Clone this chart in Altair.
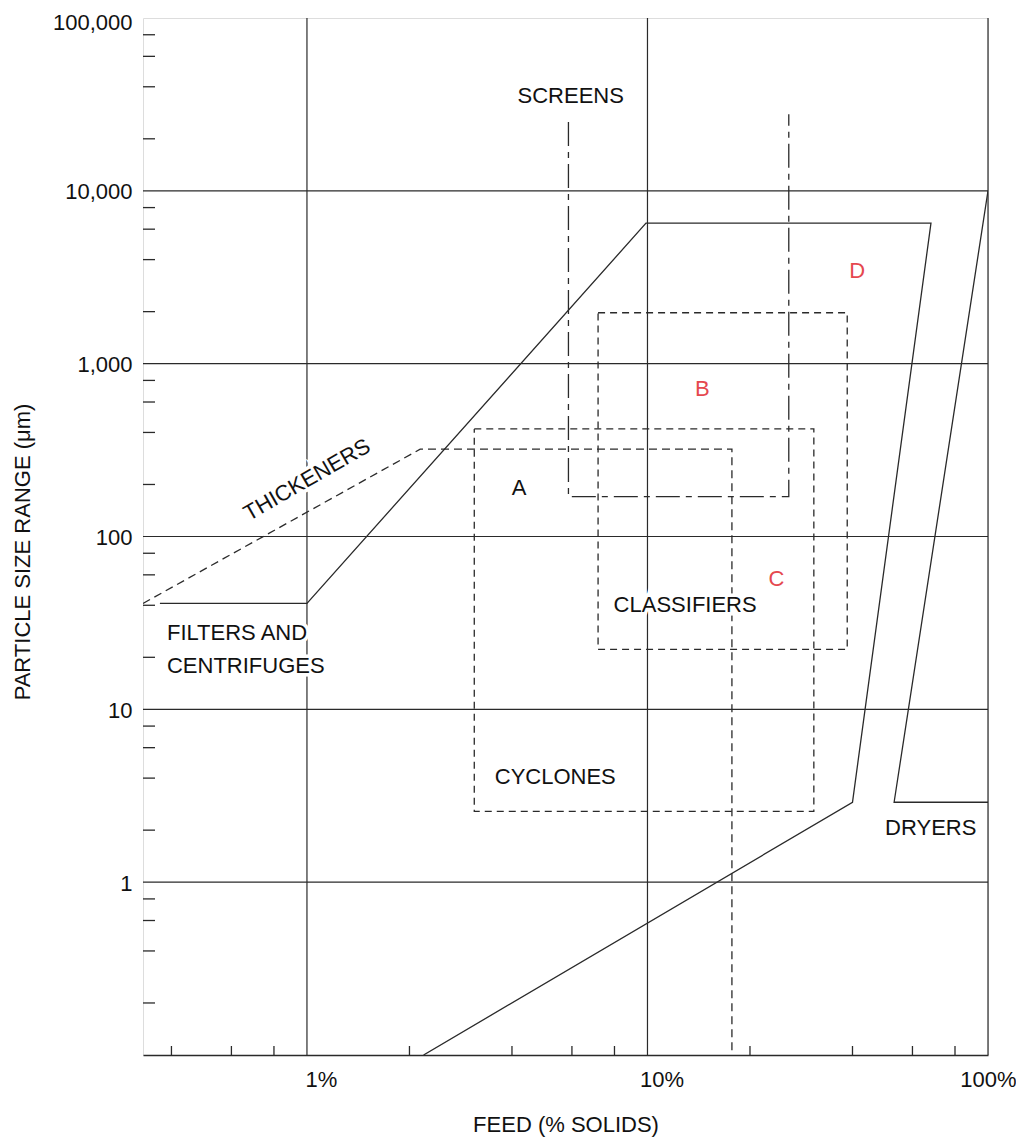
import altair as alt
import pandas as pd

# ---------------- data ----------------
X_DOMAIN = [0.33, 100]          # feed, % solids (log)
Y_DOMAIN = [0.1, 100000]        # particle size, micrometres (log)

x_label_values = [1, 10, 100]
y_label_values = [1, 10, 100, 1000, 10000, 100000]
x_minor = [0.4, 0.6, 0.8, 2, 4, 6, 8, 20, 40, 60, 80]
y_minor = [0.2, 0.4, 0.6, 0.8, 2, 4, 6, 8, 20, 40, 60, 80,
           200, 400, 600, 800, 2000, 4000, 6000, 8000,
           20000, 40000, 60000, 80000]
grid_x = [1, 10, 100]
grid_y = [1, 10, 100, 1000, 10000]

filters_x = [0.37, 1.0, 9.9, 68, 40, 2.2]
filters_y = [41, 41, 6500, 6500, 2.9, 0.1]
dryers_x = [100, 53, 100]
dryers_y = [10000, 2.9, 2.9]
thickeners_x = [0.33, 2.15, 17.7, 17.7]
thickeners_y = [41, 320, 320, 0.1]
cyclones_x = [3.1, 30.8, 30.8, 3.1, 3.1]
cyclones_y = [419, 419, 2.57, 2.57, 419]
classifiers_x = [7.16, 38.6, 38.6, 7.16, 7.16]
classifiers_y = [1970, 1970, 22.2, 22.2, 1970]
screens_x = [5.86, 5.86, 26, 26]
screens_y = [25000, 170, 170, 27700]

center_text = ["SCREENS", "THICKENERS", "A", "B", "C", "D",
               "CLASSIFIERS", "CYCLONES", "DRYERS"]
center_x = [5.95, 1.0, 4.2, 14.5, 23.9, 41.3, 12.9, 5.36, 67.9]
center_y = [35600, 213, 190, 716, 56.5, 3430, 40.4, 4.08, 2.07]
center_angle = [0, 330, 0, 0, 0, 0, 0, 0, 0]
center_red = [False, False, False, True, True, True, False, False, False]

left_text = ["FILTERS AND", "CENTRIFUGES"]
left_x = [0.388, 0.388]
left_y = [27.7, 17.8]

# ---------------- styling ----------------
W, H = 845, 1037
FONT = "Liberation Sans Narrow, Arial Narrow, Liberation Sans, Arial, sans-serif"
FS = 22
LINE = "#2a2a2a"
TXT = "#111111"
RED = "#e5484f"

xscale = alt.Scale(type="log", domain=X_DOMAIN, nice=False)
yscale = alt.Scale(type="log", domain=Y_DOMAIN, nice=False)

xaxis = alt.Axis(values=x_label_values, labelExpr="datum.value + '%'",
                 ticks=False, grid=False, domain=True, domainColor=LINE,
                 domainWidth=1.3, labelFont=FONT, labelFontSize=FS,
                 labelColor=TXT, labelPadding=14, labelFlush=False,
                 labelOverlap=False,
                 labelOffset={"condition": {"test": "datum.value >= 100", "value": 0},
                              "value": 14},
                 title="FEED (% SOLIDS)", titleFont=FONT, titleFontSize=FS,
                 titleFontWeight="normal", titleColor=TXT,
                 titleY=69, titleBaseline="middle")
yaxis = alt.Axis(values=y_label_values, format=",", ticks=False, grid=False,
                 domain=False, labelFont=FONT, labelFontSize=FS,
                 labelColor=TXT, labelPadding=11, labelFlush=False,
                 labelOverlap=False,
                 labelOffset={"condition": {"test": "datum.value >= 100000", "value": 4},
                              "value": 1},
                 title="PARTICLE SIZE RANGE (μm)", titleFont=FONT,
                 titleFontSize=FS, titleFontWeight="normal", titleColor=TXT,
                 titleAngle=270, titleAlign="center", titleBaseline="middle",
                 titleX=-121, titleY=H / 2 + 15)


def X():
    return alt.X("x:Q", scale=xscale, axis=xaxis)


def Y():
    return alt.Y("y:Q", scale=yscale, axis=yaxis)


# gridlines
gy = alt.Chart(pd.DataFrame({"y": grid_y})).mark_rule(
    color=LINE, strokeWidth=1.2).encode(y=Y())
gx = alt.Chart(pd.DataFrame({"x": grid_x})).mark_rule(
    color=LINE, strokeWidth=1.2).encode(x=X())

# inward minor ticks
ty = alt.Chart(pd.DataFrame({"y": y_minor})).mark_rule(
    color=LINE, strokeWidth=1.3).encode(y=Y(), x=alt.value(0), x2=alt.value(12))
tx = alt.Chart(pd.DataFrame({"x": x_minor})).mark_rule(
    color=LINE, strokeWidth=1.3).encode(x=X(), y=alt.value(H), y2=alt.value(H - 9))


def poly(xs, ys, dash=None):
    df = pd.DataFrame({"x": xs, "y": ys, "i": list(range(len(xs)))})
    kw = dict(color=LINE, strokeWidth=1.3, clip=True)
    if dash:
        kw["strokeDash"] = dash
    return alt.Chart(df).mark_line(**kw).encode(x=X(), y=Y(), order="i:Q")


lines = [
    poly(filters_x, filters_y),
    poly(dryers_x, dryers_y),
    poly(thickeners_x, thickeners_y, [8, 5]),
    poly(cyclones_x, cyclones_y, [7, 5]),
    poly(classifiers_x, classifiers_y, [7, 5]),
    poly(screens_x, screens_y, [24, 6, 6, 6]),
]

cdf = pd.DataFrame({"x": center_x, "y": center_y, "t": center_text,
                    "a": center_angle,
                    "c": [RED if r else TXT for r in center_red]})
ldf = pd.DataFrame({"x": left_x, "y": left_y, "t": left_text})

halo_c = alt.Chart(cdf).mark_text(font=FONT, fontSize=FS, align="center",
                                  baseline="middle", stroke="white",
                                  strokeWidth=7, fill="white").encode(
    x=X(), y=Y(), text="t:N", angle=alt.Angle("a:Q", scale=None))
text_c = alt.Chart(cdf).mark_text(font=FONT, fontSize=FS, align="center",
                                  baseline="middle").encode(
    x=X(), y=Y(), text="t:N", angle=alt.Angle("a:Q", scale=None),
    color=alt.Color("c:N", scale=None))
halo_l = alt.Chart(ldf).mark_text(font=FONT, fontSize=FS, align="left",
                                  baseline="middle", stroke="white",
                                  strokeWidth=7, fill="white").encode(
    x=X(), y=Y(), text="t:N")
text_l = alt.Chart(ldf).mark_text(font=FONT, fontSize=FS, align="left",
                                  baseline="middle", color=TXT).encode(
    x=X(), y=Y(), text="t:N")

chart = alt.layer(gy, gx, ty, tx, *lines, halo_c, halo_l, text_c, text_l).properties(
    width=W, height=H,
    autosize=alt.AutoSizeParams(type="none"),
    padding={"left": 135, "top": 10, "right": 28, "bottom": 82},
).configure_view(strokeWidth=0, stroke="transparent").configure(background="white")

chart.save("out.html", embed_options={"renderer": "svg", "actions": False})
